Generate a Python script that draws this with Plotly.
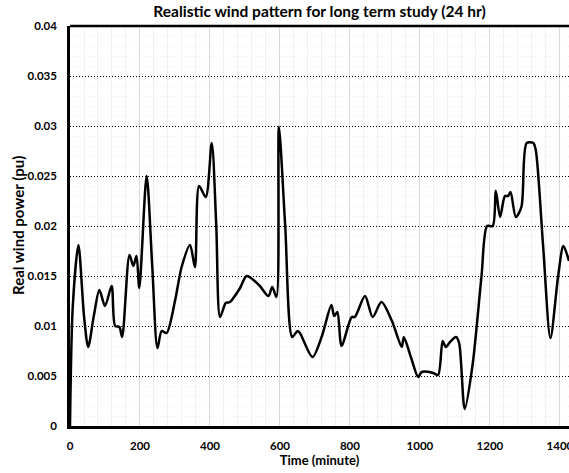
import plotly.graph_objects as go

# Time (minute) and real wind power (pu)
time_min = [0, 8, 24, 40, 52, 68, 84, 100, 119, 129, 141, 149, 170, 181, 190, 198,
            219, 235, 250, 262, 276, 300, 319, 343, 357, 369, 388, 405, 418, 429,
            445, 457, 486, 505, 540, 567, 578, 590, 597, 615, 635, 650, 657, 693,
            720, 747, 755, 764, 776, 805, 814, 843, 865, 890, 920, 948, 954, 975,
            995, 1005, 1038, 1052, 1065, 1074, 1086, 1103, 1112, 1128, 1150, 1176,
            1192, 1208, 1217, 1229, 1243, 1252, 1259, 1274, 1290, 1305, 1324, 1331,
            1352, 1373, 1395, 1410, 1426]
power_pu = [0.0, 0.0120, 0.0181, 0.0110, 0.0079, 0.0110, 0.0136, 0.0120, 0.0140, 0.0100,
            0.0099, 0.0089, 0.0171, 0.0160, 0.0170, 0.0138, 0.0250, 0.0160, 0.0078,
            0.0095, 0.0093, 0.0125, 0.0159, 0.0181, 0.0159, 0.0240, 0.0229, 0.0283,
            0.0200, 0.0109, 0.0123, 0.0124, 0.0138, 0.0150, 0.0141, 0.0130, 0.0139,
            0.0129, 0.0299, 0.0200, 0.0089, 0.0095, 0.0093, 0.0069, 0.0090, 0.0121,
            0.0110, 0.0114, 0.0080, 0.0109, 0.0109, 0.0130, 0.0109, 0.0124, 0.0105,
            0.0079, 0.0089, 0.0068, 0.0049, 0.0054, 0.0053, 0.0051, 0.0085, 0.0079,
            0.0084, 0.0089, 0.0083, 0.0017, 0.0060, 0.0150, 0.0200, 0.0200, 0.0235,
            0.0209, 0.0230, 0.0230, 0.0234, 0.0209, 0.0219, 0.0283, 0.0283, 0.0276,
            0.0180, 0.0088, 0.0150, 0.0180, 0.0165]

x_ticks = [0, 200, 400, 600, 800, 1000, 1200, 1400]
y_ticks = [0, 0.005, 0.01, 0.015, 0.02, 0.025, 0.03, 0.035, 0.04]
y_tick_labels = ["0", "0.005", "0.01", "0.015", "0.02", "0.025", "0.03", "0.035", "0.04"]

FONT = "Lato"

fig = go.Figure()
fig.add_trace(go.Scatter(
    x=time_min, y=power_pu, mode="lines",
    line=dict(color="black", width=2.5, shape="spline", smoothing=0.8),
    showlegend=False, hoverinfo="x+y",
))

fig.update_layout(
    width=569, height=473,
    margin=dict(l=70, r=0, t=26, b=47, autoexpand=False),
    paper_bgcolor="white", plot_bgcolor="white",
    font=dict(family=FONT, color="black"),
    title=dict(text="<b>Realistic wind pattern for long term study (24 hr)</b>",
               x=0.5, xref="paper", xanchor="center",
               y=1 - 12 / 473, yref="container", yanchor="middle",
               font=dict(family=FONT, size=15.5, color="black")),
    xaxis=dict(
        range=[0, 1426], tickvals=x_ticks, ticktext=[f"<b>{v}</b>" for v in x_ticks],
        tickfont=dict(family=FONT, size=11.5, color="black"),
        ticklabeloverflow="allow",
        showgrid=True, gridcolor="#d9d9d9", gridwidth=1,
        minor=dict(dtick=40, tick0=0, showgrid=True, gridcolor="#f0f0f0", gridwidth=1),
        showline=True, linecolor="black", linewidth=2.5,
        zeroline=False, ticks="", ticklabelstandoff=7, automargin=False,
        title=dict(text="<b>Time (minute)</b>", font=dict(family=FONT, size=13, color="black"),
                   standoff=4),
    ),
    yaxis=dict(
        range=[0, 0.04], tickvals=y_ticks, ticktext=[f"<b>{t}</b>" for t in y_tick_labels],
        tickfont=dict(family=FONT, size=11.5, color="black"),
        showgrid=True, gridcolor="black", gridwidth=1, griddash="1px,2px",
        minor=dict(dtick=0.001, tick0=0, showgrid=True, gridcolor="#f0f0f0", gridwidth=1),
        showline=True, linecolor="black", linewidth=2.5,
        zeroline=False, ticks="", ticklabelstandoff=8, automargin=False,
    ),
    annotations=[dict(text="<b>Real wind power (pu)</b>", textangle=-90,
                      xref="paper", yref="paper", x=-52 / 499, y=0.5,
                      xanchor="center", yanchor="middle", showarrow=False,
                      font=dict(family=FONT, size=15, color="black"))],
    shapes=[dict(type="line", xref="paper", yref="paper", x0=0, x1=1.02, y0=1, y1=1,
                 line=dict(color="black", width=2.5), layer="above")],
)

fig.write_html("out.html", config={"displayModeBar": False},
               post_script="document.body.style.margin='0';document.body.style.overflow='hidden';")
